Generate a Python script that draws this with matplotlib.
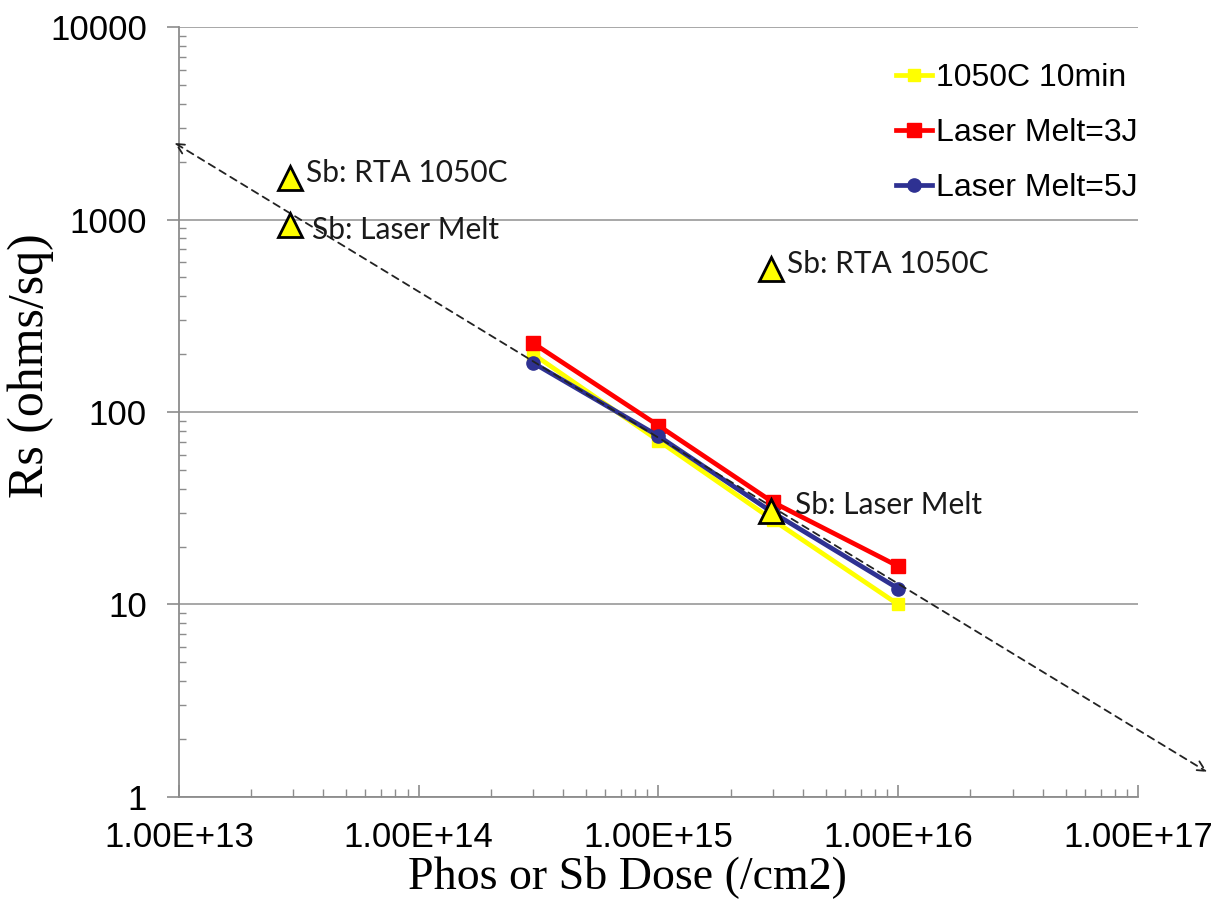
import numpy as np
import matplotlib
matplotlib.use("Agg")
import matplotlib.pyplot as plt
from matplotlib.ticker import LogLocator, FixedLocator, NullFormatter

# Phos dose series (Rs in ohms/sq)
dose = [3e14, 1e15, 3e15, 1e16]
rs_rta = [200, 71, 27.5, 10]
rs_laser_3j = [228, 85, 34, 15.8]
rs_laser_5j = [180, 75, 30, 12.1]
series_labels = ["1050C 10min", "Laser Melt=3J", "Laser Melt=5J"]

# Sb reference points
sb_dose = [2.9e13, 2.9e13, 2.95e15, 2.95e15]
sb_rs = [1650, 940, 550, 30.5]
sb_labels = ["Sb: RTA 1050C", "Sb: Laser Melt", "Sb: RTA 1050C", "Sb: Laser Melt"]

# dashed trend arrow end points
trend_x = [9.6e12, 1.94e17]
trend_y = [2500, 1.35]

x_ticks = [1e13, 1e14, 1e15, 1e16, 1e17]
x_ticklabels = ["1.00E+13", "1.00E+14", "1.00E+15", "1.00E+16", "1.00E+17"]
y_ticks = [1, 10, 100, 1000, 10000]
y_ticklabels = ["1", "10", "100", "1000", "10000"]

tick_font = ["Liberation Sans", "DejaVu Sans"]
serif_font = ["Liberation Serif", "DejaVu Serif"]
axis_gray = "#8c8c8c"

fig = plt.figure(figsize=(12.25, 9.07), dpi=100)
ax = fig.add_axes([0.146, 0.1213, 0.783, 0.8489])
ax.set_xscale("log")
ax.set_yscale("log")
ax.set_xlim(1e13, 1e17)
ax.set_ylim(1, 10000)

ax.plot(dose, rs_rta, color="#ffff00", lw=3.4, marker="s", ms=9, label=series_labels[0], zorder=3)
ax.plot(dose, rs_laser_3j, color="#ff0000", lw=3.4, marker="s", ms=10, label=series_labels[1], zorder=3)
ax.plot(dose, rs_laser_5j, color="#2e3192", lw=3.4, marker="o", ms=9.5, label=series_labels[2], zorder=4)

# trend arrow (runs past the axes)
ax.annotate("", xy=(trend_x[1], trend_y[1]), xytext=(trend_x[0], trend_y[0]),
            arrowprops=dict(arrowstyle="<->", linestyle=(0, (4, 3)), lw=1.3, color="#222222",
                            mutation_scale=18, shrinkA=0, shrinkB=0),
            annotation_clip=False, zorder=5)

ax.plot(sb_dose, sb_rs, linestyle="none", marker="^", ms=17, mfc="#ffff00", mec="black",
        mew=2, zorder=6, clip_on=False)
offsets = [(16, 5), (22, -5), (16, 5), (24, 6)]
for xv, yv, txt, off in zip(sb_dose, sb_rs, sb_labels, offsets):
    ax.annotate(txt, (xv, yv), xytext=off, textcoords="offset pixels",
                ha="left", va="center", fontsize=21.5, family=["Lato", "DejaVu Sans"],
                color="#1a1a1a", zorder=7)

# axes styling
for side in ["top", "right"]:
    ax.spines[side].set_visible(False)
for side in ["left", "bottom"]:
    ax.spines[side].set_color(axis_gray)
    ax.spines[side].set_linewidth(1.3)

ax.xaxis.set_major_locator(FixedLocator(x_ticks))
ax.set_xticklabels(x_ticklabels, family=tick_font, fontsize=25)
ax.yaxis.set_major_locator(FixedLocator(y_ticks))
ax.set_yticklabels(y_ticklabels, family=tick_font, fontsize=25)
ax.xaxis.set_minor_locator(LogLocator(base=10, subs=np.arange(2, 10)))
ax.yaxis.set_minor_locator(LogLocator(base=10, subs=np.arange(2, 10)))
ax.xaxis.set_minor_formatter(NullFormatter())
ax.yaxis.set_minor_formatter(NullFormatter())

ax.tick_params(axis="x", which="major", direction="in", length=9, width=1.2, color=axis_gray, pad=17)
ax.tick_params(axis="x", which="minor", direction="in", length=6, width=1.0, color=axis_gray)
ax.tick_params(axis="y", which="major", direction="out", length=9, width=1.2, color=axis_gray, pad=14)
ax.tick_params(axis="y", which="minor", direction="in", length=5, width=1.0, color=axis_gray)

ax.grid(True, which="major", axis="y", color="#a0a0a0", lw=1.3)
ax.set_axisbelow(True)

ax.set_xlabel("Phos or Sb Dose (/cm2)", family=serif_font, fontsize=33)
ax.xaxis.set_label_coords(0.468, -0.075)
ax.set_ylabel("Rs (ohms/sq)", family=serif_font, fontsize=36)
ax.yaxis.set_label_coords(-0.13, 0.56)

ax.legend(loc="upper right", bbox_to_anchor=(1.03, 0.99), frameon=False, handlelength=1.1,
          handletextpad=0.15, labelspacing=0.78, prop={"family": tick_font, "size": 23})

plt.savefig("out.png", dpi=100)
plt.close()
